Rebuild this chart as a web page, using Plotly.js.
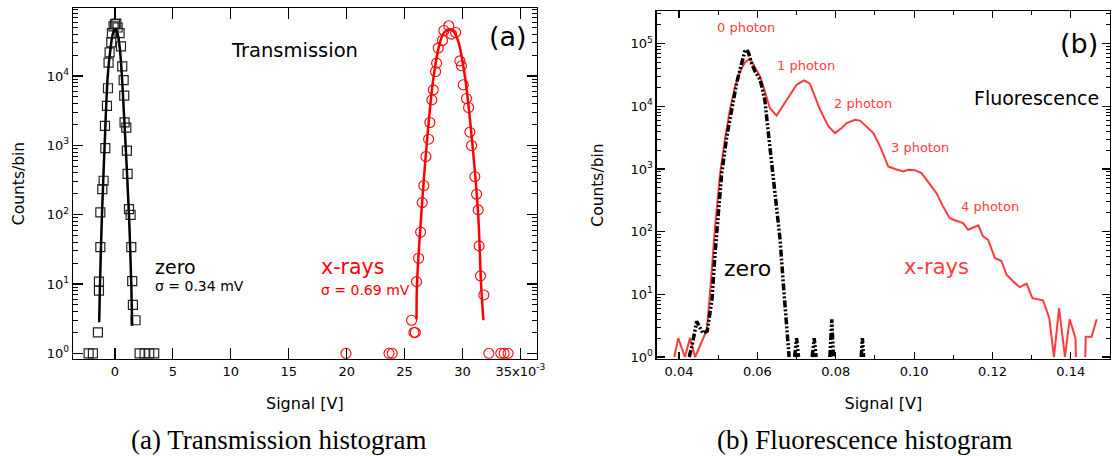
<!DOCTYPE html>
<html>
<head>
<meta charset="utf-8">
<script src="https://cdn.plot.ly/plotly-3.0.1.min.js"></script>
<style>html,body{margin:0;padding:0;background:#fff;}#chart{width:1113px;height:456px;}</style>
</head>
<body>
<div id="chart"></div>
<script>
// ---------- Panel (a): Transmission histogram (x in units of 1e-3 V) ----------
const zeroX = [-2.27,-1.90,-1.47,-1.38,-1.38,-1.26,-1.26,-1.09,-0.98,-0.83,-0.86,-0.69,-0.60,-0.55,-0.46,-0.32,-0.26,-0.12,0.0,0.12,0.23,
               0.40,0.52,0.63,0.75,0.80,0.83,0.98,1.03,1.09,1.21,1.35,1.41,1.49,1.55,1.78,2.13,2.56,2.96,3.39];
const zeroY = [1,1,2,8,10.8,34,108,234,308,910,1900,3700,6650,15600,21900,30400,41500,52000,56000,57000,50000,
               41600,26700,13700,8700,5200,2140,1800,840,386,120,99,34,11,5,3,1,1,1,1];
const zeroFitX = [-1.36,-1.29,-1.12,-0.89,-0.62,-0.38,-0.17,0.03,0.22,0.42,0.60,0.92,1.21,1.41,1.49];
const zeroFitY = [2.8,10,100,1000,10000,25000,41000,47300,41000,25000,10000,1000,100,10,2.5];

const xrayX = [19.94,23.65,23.93,25.60,25.80,25.92,26.03,26.21,26.38,26.52,26.66,26.84,27.07,27.18,27.35,27.47,27.67,27.76,27.90,28.27,28.39,28.82,
               29.05,29.40,29.77,29.91,30.06,30.34,30.52,30.63,30.78,31.06,31.21,31.35,31.43,31.55,31.84,32.27,33.30,33.59,33.93];
const xrayY = [1,1,1,3,2,2,10.8,23.5,56,149,263,689,1225,2130,4530,6300,11600,15300,25200,32500,45300,52900,
               40100,42400,16500,14000,7450,4730,3510,1545,993,354,197,117,35.4,13.1,6.95,1,1,1,1];
const xrayFitX = [26.03,26.07,26.44,26.90,27.51,28.08,28.45,28.85,29.25,29.63,30.20,30.86,31.35,31.60,31.80];
const xrayFitY = [3.1,10,100,1000,10000,31600,43000,47300,43000,31600,10000,1000,100,10,3.0];

const ticksA = [0,5,10,15,20,25,30,35];
const ticksAText = ['0','5','10','15','20','25','30','35x10<sup>-3</sup>'];

// ---------- Panel (b): Fluorescence histogram (x in V) ----------
const fluoX = [0.0388,0.0398,0.0415,0.0428,0.0441,0.0471,0.0481,0.0492,0.0505,0.0517,0.0530,0.0543,0.0556,0.0568,0.0581,0.0591,0.0607,0.0619,0.0632,0.0649,
               0.0675,0.0700,0.0719,0.0734,0.0760,0.0781,0.0798,0.0815,0.0828,0.0849,0.0862,0.0874,0.0896,0.0913,0.0934,0.0951,0.0972,0.0985,0.1002,0.1019,
               0.1036,0.1057,0.1074,0.1091,0.1104,0.1125,0.1138,0.1151,0.1164,0.1176,0.1189,0.1206,0.1223,0.1236,0.1253,0.1270,0.1287,0.1302,0.1317,0.1329,
               0.1345,0.1357,0.1370,0.1385,0.1397,0.1412,0.1413,0.1425,0.1437,0.1438,0.1453,0.1466];
const fluoY = [1,2,1,2,1,2.7,15,121,860,2940,8800,20700,36000,50000,58000,45800,29900,17300,9300,7100,
               12700,22000,25900,22900,8800,4800,3740,4500,5400,6100,5900,5070,3730,2290,1100,1000,915,970,950,860,
               630,413,251,164,152,137,107,117,126,84,74,38,34,20.5,16,13,14.8,8.7,8.2,8,
               4.2,1,6,1,4,2,1,null,1,2.1,2.1,4];

const fluoZeroX = [0.0426,0.0434,0.0445,0.0461,0.0472,0.0484,0.0492,0.0501,0.0509,0.0522,0.0535,0.0547,0.0560,0.0568,0.0572,0.0577,0.0585,0.0594,0.0607,0.0619,
                   0.0628,0.0639,0.0649,0.0658,0.0666,0.0676,0.0681,0.0688,
                   0.0695,0.0700,0.0705,0.0720,0.0740,0.0745,0.0750,0.0770,0.0785,0.0790,0.0794,0.0830,0.0865,0.0868,0.0871];
const fluoZeroY = [1,1.6,3.7,2.4,2.6,8.2,46,224,860,3300,10000,23500,49000,75000,80000,72500,49000,36000,26500,12700,
                   3740,860,198,74,15,2.4,1,null,
                   1,2,1,null,1,2,1,null,1,4,1,null,1,2,1];

const logTicks = [1,10,100,1000,10000,100000];
const logTicksText = ['10<sup>0</sup>','10<sup>1</sup>','10<sup>2</sup>','10<sup>3</sup>','10<sup>4</sup>','10<sup>5</sup>'];
const ticksB = [0.04,0.06,0.08,0.10,0.12,0.14];
const ticksBText = ['0.04','0.06','0.08','0.10','0.12','0.14'];
const minorB = [0.05,0.07,0.09,0.11,0.13];

// ---------- layout helpers ----------
const W = 1113, H = 456;
const M = {l:73, r:3, t:8, b:97};
const px = p => (p - M.l) / (W - M.l - M.r);
const py = p => 1 - (p - M.t) / (H - M.t - M.b);
const minorLog = [];
for (let d = 0; d < 6; d++) for (let k = 2; k <= 9; k++) minorLog.push(k * Math.pow(10, d));

const FONT = 'DejaVu Sans, Verdana, sans-serif';
const RED_A = '#ff0000';
const RED_B = '#ff3b3b';

const traces = [
  {x: zeroX, y: zeroY, type:'scatter', mode:'markers', xaxis:'x', yaxis:'y',
   marker:{symbol:'square-open', size:9, color:'#222', line:{width:1.2}}},
  {x: zeroFitX, y: zeroFitY, type:'scatter', mode:'lines', xaxis:'x', yaxis:'y',
   line:{color:'#000', width:2.5, shape:'spline', smoothing:1}},
  {x: xrayX, y: xrayY, type:'scatter', mode:'markers', xaxis:'x', yaxis:'y',
   marker:{symbol:'circle-open', size:10, color:RED_A, line:{width:1.1}}},
  {x: xrayFitX, y: xrayFitY, type:'scatter', mode:'lines', xaxis:'x', yaxis:'y',
   line:{color:RED_A, width:2.5, shape:'spline', smoothing:1}},
  {x: fluoX, y: fluoY, type:'scatter', mode:'lines', xaxis:'x2', yaxis:'y2', connectgaps:false,
   line:{color:RED_B, width:2}},
  {x: fluoZeroX, y: fluoZeroY, type:'scatter', mode:'lines', xaxis:'x2', yaxis:'y2', connectgaps:false,
   line:{color:'#000', width:3.5, dash:'7px,2px,2px,2px,2px,2px'}}
];

const axCommon = {
  showgrid:false, zeroline:false, showline:true, linecolor:'#000', linewidth:1.3,
  ticks:'inside', tickcolor:'#000', tickwidth:1.2, mirror:'allticks',
  tickfont:{family:FONT, size:13, color:'#000'}, fixedrange:true
};

const layout = {
  width: W, height: H, margin: M, paper_bgcolor:'#fff', plot_bgcolor:'#fff',
  showlegend:false, font:{family:FONT, color:'#000', size:13},
  xaxis: Object.assign({}, axCommon, {
    domain:[0, px(536.7)], range:[-3.62, 36.4], tickmode:'array', tickvals:ticksA, ticktext:ticksAText, ticklen:11,
    anchor:'y', title:{text:'Signal [V]', font:{family:FONT, size:16, color:'#000'}, standoff:20}
  }),
  yaxis: Object.assign({}, axCommon, {
    domain:[0,1], type:'log', range:[-0.082, 4.98], tickmode:'array', tickvals:logTicks, ticktext:logTicksText, ticklen:10,
    minor:{tickmode:'array', tickvals:minorLog, ticks:'inside', ticklen:5, tickcolor:'#000', tickwidth:1},
    anchor:'x', title:{text:'Counts/bin', font:{family:FONT, size:15.5, color:'#000'}, standoff:18}
  }),
  xaxis2: Object.assign({}, axCommon, {
    domain:[px(656.7), 1], range:[0.0343, 0.150], tickmode:'array', tickvals:ticksB, ticktext:ticksBText, ticklen:7,
    minor:{tickmode:'array', tickvals:minorB, ticks:'inside', ticklen:4, tickcolor:'#000', tickwidth:1},
    anchor:'y2', title:{text:'Signal [V]', font:{family:FONT, size:16, color:'#000'}, standoff:20}
  }),
  yaxis2: Object.assign({}, axCommon, {
    domain:[0, py(11)], type:'log', range:[-0.032, 5.52], tickmode:'array', tickvals:logTicks, ticktext:logTicksText, ticklen:8,
    minor:{tickmode:'array', tickvals:minorLog, ticks:'inside', ticklen:4, tickcolor:'#000', tickwidth:1},
    anchor:'x2', title:{text:'Counts/bin', font:{family:FONT, size:15.5, color:'#000'}, standoff:23}
  }),
  annotations: [
    // panel (a)
    {text:'Transmission', x:px(294), y:py(51), font:{size:19.5, color:'#000'}},
    {text:'(a)', x:px(508), y:py(37), font:{size:27, color:'#000'}},
    {text:'zero', x:px(153), xanchor:'left', y:py(267), font:{size:19, color:'#000'}},
    {text:'σ = 0.34 mV', x:px(153), xanchor:'left', y:py(286), font:{size:14, color:'#000'}},
    {text:'x-rays', x:px(319), xanchor:'left', y:py(267), font:{size:20.5, color:RED_A}},
    {text:'σ = 0.69 mV', x:px(319), xanchor:'left', y:py(290), font:{size:14, color:RED_A}},
    // panel (b)
    {text:'0 photon', x:px(746), y:py(28), font:{size:13, color:RED_B}},
    {text:'1 photon', x:px(806), y:py(65), font:{size:13, color:RED_B}},
    {text:'2 photon', x:px(863), y:py(103), font:{size:13, color:RED_B}},
    {text:'3 photon', x:px(920), y:py(147), font:{size:13, color:RED_B}},
    {text:'4 photon', x:px(989.5), y:py(207), font:{size:13, color:RED_B}},
    {text:'Fluorescence', x:px(1036), y:py(98), font:{size:19, color:'#000'}},
    {text:'(b)', x:px(1078.5), y:py(43), font:{size:27, color:'#000'}},
    {text:'x-rays', x:px(936), y:py(267), font:{size:21, color:RED_B}},
    {text:'zero', x:px(747.5), y:py(268), font:{size:22, color:'#000'}},
    // captions
    {text:'(a) Transmission histogram', x:px(279), y:py(440), font:{family:'Liberation Serif, serif', size:27, color:'#000'}},
    {text:'(b) Fluorescence histogram', x:px(864), y:py(440), font:{family:'Liberation Serif, serif', size:27, color:'#000'}}
  ].map(a => Object.assign({xref:'paper', yref:'paper', showarrow:false, xanchor:'center', yanchor:'middle'}, a,
        {font:Object.assign({family:FONT}, a.font)}))
};

Plotly.newPlot('chart', traces, layout, {displayModeBar:false, staticPlot:true});
</script>
</body>
</html>
